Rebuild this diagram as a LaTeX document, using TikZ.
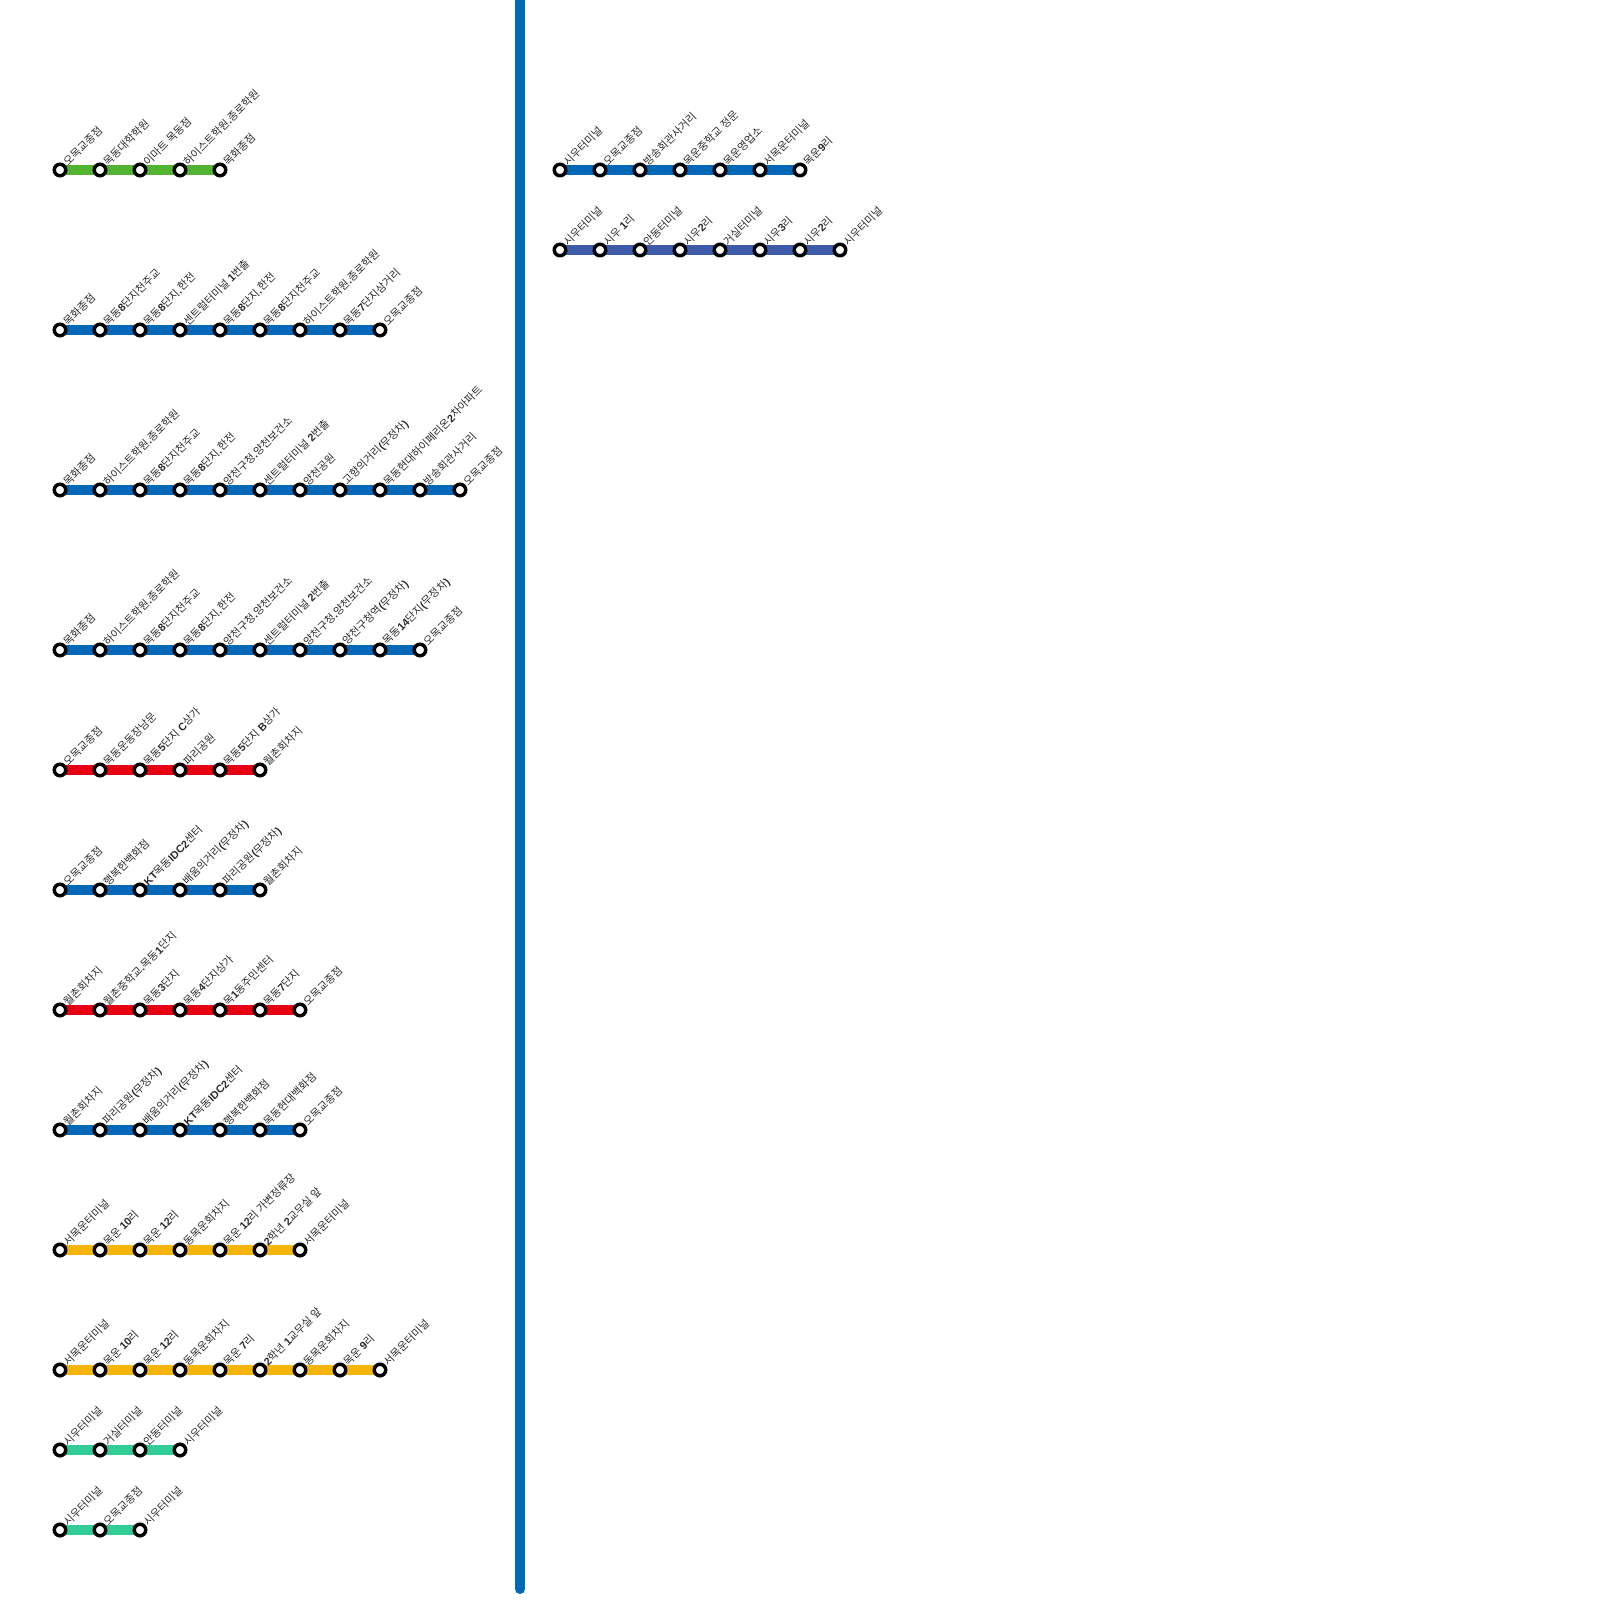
\documentclass[tikz,border=0pt]{standalone}
\usetikzlibrary{backgrounds}
\usepackage{fontspec}
\setmainfont{Noto Sans CJK KR}
\newfontfamily\latfont{Liberation Sans}
\newcommand{\lat}[1]{{\latfont\bfseries #1}}
\definecolor{verde}{HTML}{52B332}
\definecolor{azul}{HTML}{0068B7}
\definecolor{rojo}{HTML}{E60012}
\definecolor{amarillo}{HTML}{F5B50A}
\definecolor{menta}{HTML}{32CD96}
\definecolor{indigo}{HTML}{3F5AA8}
\definecolor{texto}{HTML}{2A2A2A}
\begin{document}
\begin{tikzpicture}[
        x=1pt, y=1pt,
        node distance=40pt,
        parada/.style={circle, draw=black, fill=white, line width=3.5pt, minimum size=11.5pt, inner sep=0pt,
            label={[rotate=45, anchor=west, inner sep=0pt, label distance=1pt, text=texto, font=\fontsize{10.8pt}{10.8pt}\selectfont]45:#1}},
        linea/.style={line width=10pt}
    ]
        \useasboundingbox (0,0) rectangle (1600,-1600);

        % Linea central
        \coordinate (v1) at (520,0);
        \coordinate (v2) at (520,-1589);
        \draw[linea, azul, line cap=round] (v1) -- (v2);

        % Linea 1
        \node[parada=오목교종점] (a1) at (60,-170) {};
        \node[parada=목동대학학원, right of=a1] (a2) {};
        \node[parada=이마트 목동점, right of=a2] (a3) {};
        \node[parada=하이스트학원\lat{.}종로학원, right of=a3] (a4) {};
        \node[parada=목화종점, right of=a4] (a5) {};
        \scoped[on background layer] \draw[linea, verde] (a1.center) -- (a5.center);

        % Linea 2
        \node[parada=목화종점] (b1) at (60,-330) {};
        \node[parada=목동\lat{8}단지천주교, right of=b1] (b2) {};
        \node[parada=목동\lat{8}단지\lat{.}한전, right of=b2] (b3) {};
        \node[parada=센트럴터미널 \lat{1}번출, right of=b3] (b4) {};
        \node[parada=목동\lat{8}단지\lat{.}한전, right of=b4] (b5) {};
        \node[parada=목동\lat{8}단지천주교, right of=b5] (b6) {};
        \node[parada=하이스트학원\lat{.}종로학원, right of=b6] (b7) {};
        \node[parada=목동\lat{7}단지삼거리, right of=b7] (b8) {};
        \node[parada=오목교종점, right of=b8] (b9) {};
        \scoped[on background layer] \draw[linea, azul] (b1.center) -- (b9.center);

        % Linea 3
        \node[parada=목화종점] (c1) at (60,-490) {};
        \node[parada=하이스트학원\lat{.}종로학원, right of=c1] (c2) {};
        \node[parada=목동\lat{8}단지천주교, right of=c2] (c3) {};
        \node[parada=목동\lat{8}단지\lat{.}한전, right of=c3] (c4) {};
        \node[parada=양천구청\lat{.}양천보건소, right of=c4] (c5) {};
        \node[parada=센트럴터미널 \lat{2}번출, right of=c5] (c6) {};
        \node[parada=양천공원, right of=c6] (c7) {};
        \node[parada=고향의거리\lat{(}무정차\lat{)}, right of=c7] (c8) {};
        \node[parada=목동현대하이페리온\lat{2}차아파트, right of=c8] (c9) {};
        \node[parada=방송회관사거리, right of=c9] (c10) {};
        \node[parada=오목교종점, right of=c10] (c11) {};
        \scoped[on background layer] \draw[linea, azul] (c1.center) -- (c11.center);

        % Linea 4
        \node[parada=목화종점] (d1) at (60,-650) {};
        \node[parada=하이스트학원\lat{.}종로학원, right of=d1] (d2) {};
        \node[parada=목동\lat{8}단지천주교, right of=d2] (d3) {};
        \node[parada=목동\lat{8}단지\lat{.}한전, right of=d3] (d4) {};
        \node[parada=양천구청\lat{.}양천보건소, right of=d4] (d5) {};
        \node[parada=센트럴터미널 \lat{2}번출, right of=d5] (d6) {};
        \node[parada=양천구청\lat{.}양천보건소, right of=d6] (d7) {};
        \node[parada=양천구청역\lat{(}무정차\lat{)}, right of=d7] (d8) {};
        \node[parada=목동\lat{14}단지\lat{(}무정차\lat{)}, right of=d8] (d9) {};
        \node[parada=오목교종점, right of=d9] (d10) {};
        \scoped[on background layer] \draw[linea, azul] (d1.center) -- (d10.center);

        % Linea 5
        \node[parada=오목교종점] (e1) at (60,-770) {};
        \node[parada=목동운동장남문, right of=e1] (e2) {};
        \node[parada=목동\lat{5}단지 \lat{C}상가, right of=e2] (e3) {};
        \node[parada=파리공원, right of=e3] (e4) {};
        \node[parada=목동\lat{5}단지 \lat{B}상가, right of=e4] (e5) {};
        \node[parada=월촌회차지, right of=e5] (e6) {};
        \scoped[on background layer] \draw[linea, rojo] (e1.center) -- (e6.center);

        % Linea 6
        \node[parada=오목교종점] (f1) at (60,-890) {};
        \node[parada=행복한백화점, right of=f1] (f2) {};
        \node[parada=\lat{KT}목동\lat{IDC2}센터, right of=f2] (f3) {};
        \node[parada=배움의거리\lat{(}무정차\lat{)}, right of=f3] (f4) {};
        \node[parada=파리공원\lat{(}무정차\lat{)}, right of=f4] (f5) {};
        \node[parada=월촌회차지, right of=f5] (f6) {};
        \scoped[on background layer] \draw[linea, azul] (f1.center) -- (f6.center);

        % Linea 7
        \node[parada=월촌회차지] (g1) at (60,-1010) {};
        \node[parada=월촌중학교\lat{.}목동\lat{1}단지, right of=g1] (g2) {};
        \node[parada=목동\lat{3}단지, right of=g2] (g3) {};
        \node[parada=목동\lat{4}단지상가, right of=g3] (g4) {};
        \node[parada=목\lat{1}동주민센터, right of=g4] (g5) {};
        \node[parada=목동\lat{7}단지, right of=g5] (g6) {};
        \node[parada=오목교종점, right of=g6] (g7) {};
        \scoped[on background layer] \draw[linea, rojo] (g1.center) -- (g7.center);

        % Linea 8
        \node[parada=월촌회차지] (h1) at (60,-1130) {};
        \node[parada=파리공원\lat{(}무정차\lat{)}, right of=h1] (h2) {};
        \node[parada=배움의거리\lat{(}무정차\lat{)}, right of=h2] (h3) {};
        \node[parada=\lat{KT}목동\lat{IDC2}센터, right of=h3] (h4) {};
        \node[parada=행복한백화점, right of=h4] (h5) {};
        \node[parada=목동현대백화점, right of=h5] (h6) {};
        \node[parada=오목교종점, right of=h6] (h7) {};
        \scoped[on background layer] \draw[linea, azul] (h1.center) -- (h7.center);

        % Linea 9
        \node[parada=서목운터미널] (i1) at (60,-1250) {};
        \node[parada=목운 \lat{10}리, right of=i1] (i2) {};
        \node[parada=목운 \lat{12}리, right of=i2] (i3) {};
        \node[parada=동목운회차지, right of=i3] (i4) {};
        \node[parada=목운 \lat{12}리 가변정류장, right of=i4] (i5) {};
        \node[parada=\lat{2}학년 \lat{2}교무실 앞, right of=i5] (i6) {};
        \node[parada=서목운터미널, right of=i6] (i7) {};
        \scoped[on background layer] \draw[linea, amarillo] (i1.center) -- (i7.center);

        % Linea 10
        \node[parada=서목운터미널] (j1) at (60,-1370) {};
        \node[parada=목운 \lat{10}리, right of=j1] (j2) {};
        \node[parada=목운 \lat{12}리, right of=j2] (j3) {};
        \node[parada=동목운회차지, right of=j3] (j4) {};
        \node[parada=목운 \lat{7}리, right of=j4] (j5) {};
        \node[parada=\lat{2}학년 \lat{1}교무실 앞, right of=j5] (j6) {};
        \node[parada=동목운회차지, right of=j6] (j7) {};
        \node[parada=목운 \lat{9}리, right of=j7] (j8) {};
        \node[parada=서목운터미널, right of=j8] (j9) {};
        \scoped[on background layer] \draw[linea, amarillo] (j1.center) -- (j9.center);

        % Linea 11
        \node[parada=시우터미널] (k1) at (60,-1450) {};
        \node[parada=거실터미널, right of=k1] (k2) {};
        \node[parada=안동터미널, right of=k2] (k3) {};
        \node[parada=시우터미널, right of=k3] (k4) {};
        \scoped[on background layer] \draw[linea, menta] (k1.center) -- (k4.center);

        % Linea 12
        \node[parada=시우터미널] (l1) at (60,-1530) {};
        \node[parada=오목교종점, right of=l1] (l2) {};
        \node[parada=시우터미널, right of=l2] (l3) {};
        \scoped[on background layer] \draw[linea, menta] (l1.center) -- (l3.center);

        % Linea 13
        \node[parada=시우터미널] (m1) at (560,-170) {};
        \node[parada=오목교종점, right of=m1] (m2) {};
        \node[parada=방송회관사거리, right of=m2] (m3) {};
        \node[parada=목운중학교 정문, right of=m3] (m4) {};
        \node[parada=목운영업소, right of=m4] (m5) {};
        \node[parada=서목운터미널, right of=m5] (m6) {};
        \node[parada=목운\lat{9}리, right of=m6] (m7) {};
        \scoped[on background layer] \draw[linea, azul] (m1.center) -- (m7.center);

        % Linea 14
        \node[parada=시우터미널] (n1) at (560,-250) {};
        \node[parada=시우 \lat{1}리, right of=n1] (n2) {};
        \node[parada=안동터미널, right of=n2] (n3) {};
        \node[parada=시우\lat{2}리, right of=n3] (n4) {};
        \node[parada=거실터미널, right of=n4] (n5) {};
        \node[parada=시우\lat{3}리, right of=n5] (n6) {};
        \node[parada=시우\lat{2}리, right of=n6] (n7) {};
        \node[parada=시우터미널, right of=n7] (n8) {};
        \scoped[on background layer] \draw[linea, indigo] (n1.center) -- (n8.center);
    \end{tikzpicture}
\end{document}
